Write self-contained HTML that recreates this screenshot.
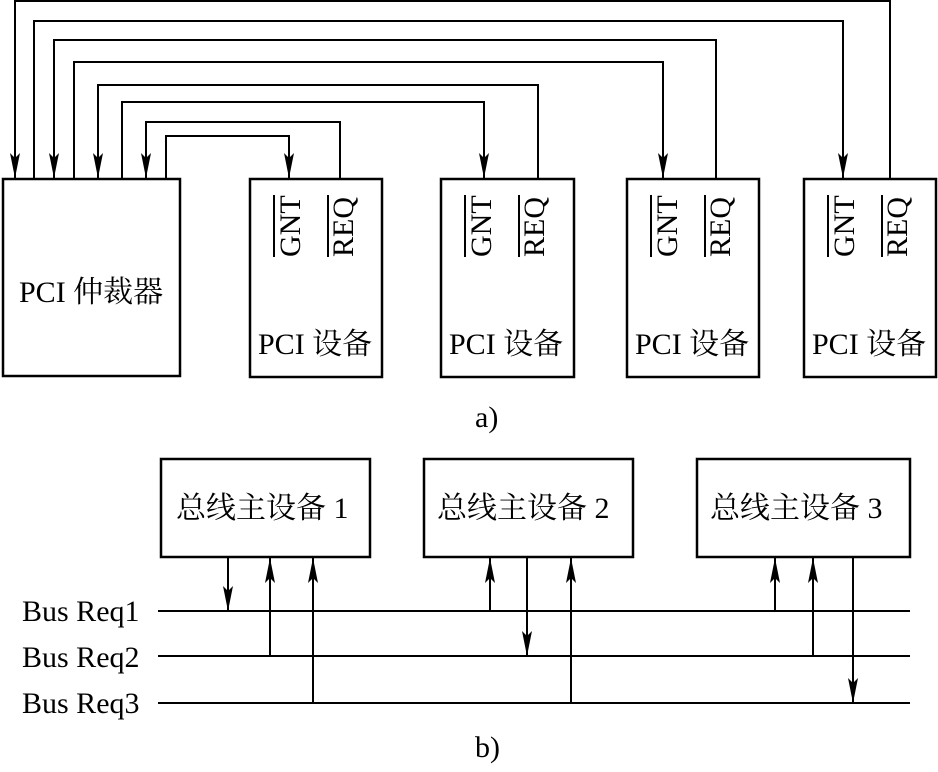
<!DOCTYPE html>
<html><head><meta charset="utf-8"><style>
html,body{margin:0;padding:0;background:#fff;}
svg text{font-family:"Liberation Serif","Noto Serif CJK SC",serif;fill:#000;}
</style></head><body>
<svg width="938" height="767" viewBox="0 0 938 767" xmlns="http://www.w3.org/2000/svg">
<g fill="none" stroke="#000" stroke-width="2.5">
<rect x="3" y="179" width="177" height="197"/>
<rect x="250" y="179" width="132" height="198"/>
<rect x="441" y="179" width="133" height="198"/>
<rect x="627" y="179" width="132" height="198"/>
<rect x="804" y="179" width="132" height="198"/>
<rect x="161" y="459" width="209" height="98"/>
<rect x="424" y="459" width="209" height="98"/>
<rect x="697" y="459" width="213" height="98"/>
</g>
<g fill="none" stroke="#000" stroke-width="2">
<path d="M890,179 V1 H15 V178"/>
<path d="M34,179 V21 H843 V178"/>
<path d="M716,179 V40 H54 V178"/>
<path d="M74,179 V62 H663 V178"/>
<path d="M538,179 V85 H98 V178"/>
<path d="M122,179 V102 H484 V178"/>
<path d="M340,179 V122 H146 V178"/>
<path d="M166,179 V136 H289 V178"/>
<path d="M158,611 H910 M158,656 H910 M158,703 H910"/>
<path d="M228,557 V610"/>
<path d="M270,656 V558"/>
<path d="M313,703 V558"/>
<path d="M490,611 V558"/>
<path d="M527,557 V655"/>
<path d="M571,703 V558"/>
<path d="M775,611 V558"/>
<path d="M813,656 V558"/>
<path d="M853,557 V702"/>
</g>
<g fill="#000">
<!-- down arrows: tip at (x,y) -->
<polygon points="10,153 15,178 20,153 15,158"/>
<polygon points="49,153 54,178 59,153 54,158"/>
<polygon points="93,153 98,178 103,153 98,158"/>
<polygon points="141,153 146,178 151,153 146,158"/>
<polygon points="284,153 289,178 294,153 289,158"/>
<polygon points="479,153 484,178 489,153 484,158"/>
<polygon points="658,153 663,178 668,153 663,158"/>
<polygon points="838,153 843,178 848,153 843,158"/>
<polygon points="223,586 228,611 233,586 228,591"/>
<polygon points="522,631 527,656 532,631 527,636"/>
<polygon points="848,678 853,703 858,678 853,683"/>
<!-- up arrows: tip at (x,558) -->
<polygon points="265,583 270,558 275,583 270,578"/>
<polygon points="308,583 313,558 318,583 313,578"/>
<polygon points="485,583 490,558 495,583 490,578"/>
<polygon points="566,583 571,558 576,583 571,578"/>
<polygon points="770,583 775,558 780,583 775,578"/>
<polygon points="808,583 813,558 818,583 813,578"/>
</g>
<g stroke="#000" stroke-width="2">
<path d="M274,195 V257 M328,195 V257"/>
<path d="M465,195 V257 M519,195 V257"/>
<path d="M651,195 V257 M705,195 V257"/>
<path d="M828,195 V257 M882,195 V257"/>
</g>
<g font-size="30">
<text transform="translate(300,257) rotate(-90)">GNT</text>
<text transform="translate(353,257) rotate(-90)">REQ</text>
<text transform="translate(491,257) rotate(-90)">GNT</text>
<text transform="translate(544,257) rotate(-90)">REQ</text>
<text transform="translate(677,257) rotate(-90)">GNT</text>
<text transform="translate(730,257) rotate(-90)">REQ</text>
<text transform="translate(854,257) rotate(-90)">GNT</text>
<text transform="translate(907,257) rotate(-90)">REQ</text>
<text x="19" y="302">PCI 仲裁器</text>
<text x="258" y="354">PCI 设备</text>
<text x="449" y="354">PCI 设备</text>
<text x="635" y="354">PCI 设备</text>
<text x="812" y="354">PCI 设备</text>
<text x="475" y="427">a)</text>
<text x="176" y="518">总线主设备 1</text>
<text x="437" y="518">总线主设备 2</text>
<text x="710" y="518">总线主设备 3</text>
<text x="22" y="621">Bus Req1</text>
<text x="22" y="667">Bus Req2</text>
<text x="22" y="713">Bus Req3</text>
<text x="475" y="757">b)</text>
</g>
</svg>
</body></html>
